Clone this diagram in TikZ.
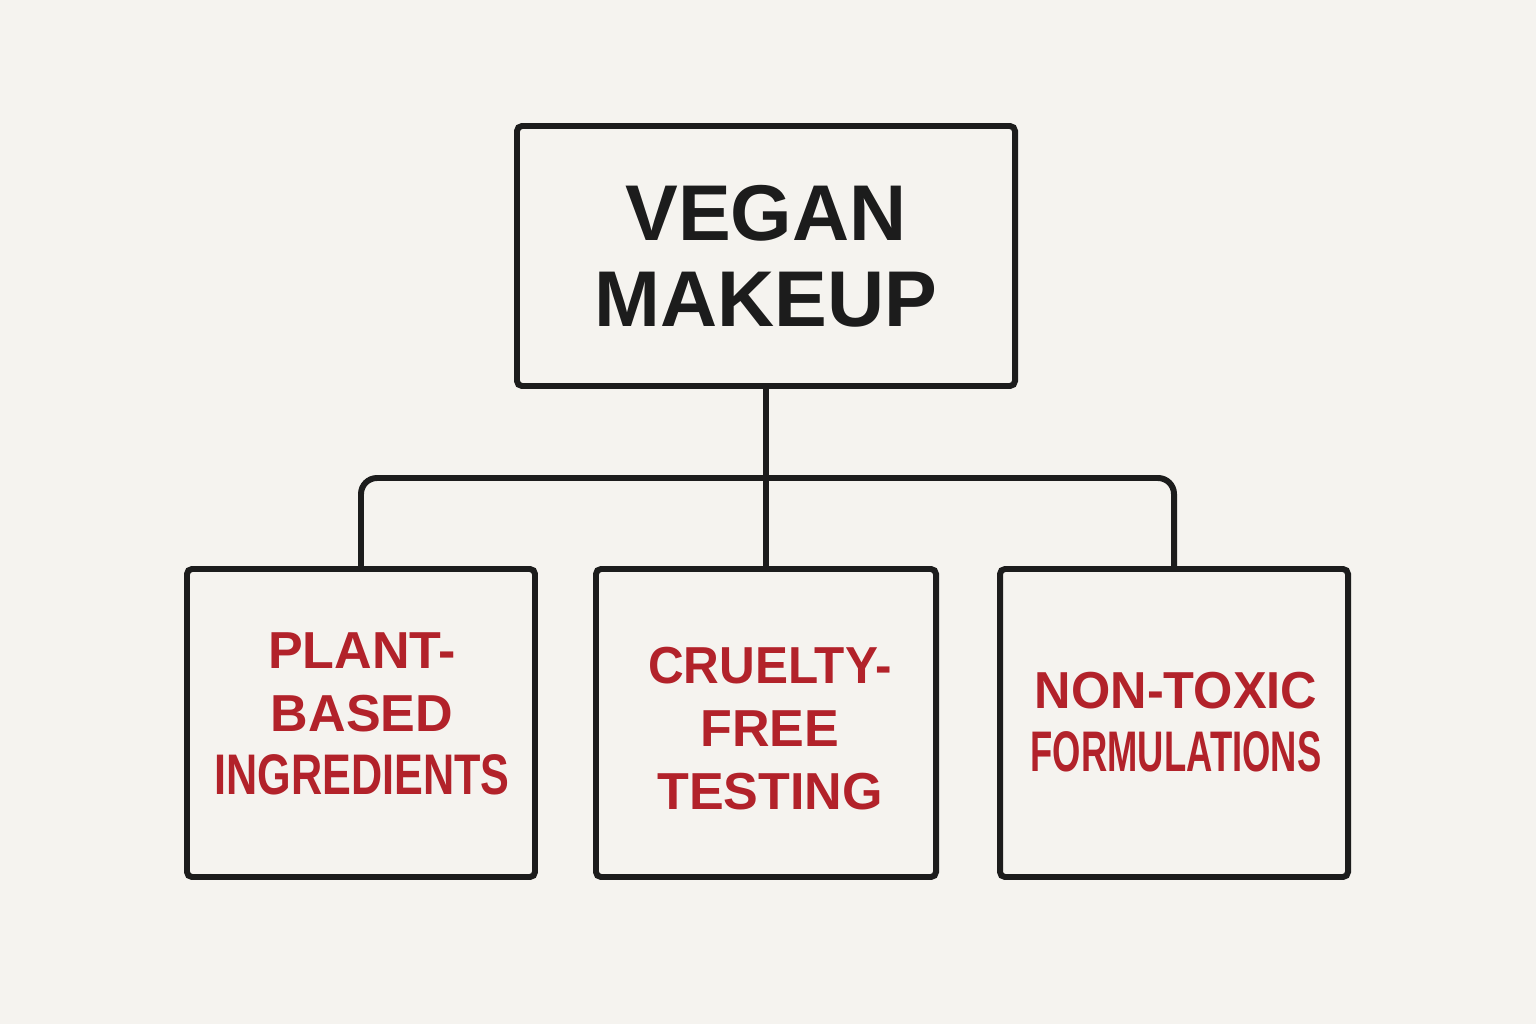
\documentclass[tikz,border=0pt]{standalone}
\usepackage{fontspec}
\usepackage{graphicx}
\setmainfont{Liberation Sans}
\definecolor{bg}{HTML}{F5F3EF}
\definecolor{ink}{HTML}{1C1C1C}
\definecolor{redtxt}{HTML}{B2222A}
\begin{document}
\begin{tikzpicture}[
  box/.style={draw=ink, line width=1.7pt, rounded corners=0.05cm, fill=bg, align=center, inner sep=0pt},
  topbox/.style={box, minimum width=4.98cm, minimum height=2.60cm, text=ink, font=\bfseries\fontsize{22.5}{24.4}\selectfont},
  subbox/.style={box, minimum width=3.44cm, minimum height=3.08cm},
  redlbl/.style={text=redtxt, font=\bfseries\fontsize{14.8}{17.9}\selectfont, align=center},
  link/.style={draw=ink, line width=1.7pt, rounded corners=0.16cm}
]
\fill[bg] (0,0) rectangle (15.36,10.24);
\useasboundingbox (0,0) rectangle (15.36,10.24);

\node[topbox] (top) at (7.66,7.68) {VEGAN\\MAKEUP};

\node[subbox, minimum width=3.48cm] (left) at (3.61,3.01) {};
\node[subbox, minimum width=3.40cm] (mid) at (7.66,3.01) {};
\node[subbox, minimum width=3.48cm] (right) at (11.74,3.01) {};

\node[redlbl] (ltxt) at (3.62,3.10)
  {PLANT-\\BASED\\\scalebox{0.83}[1.1]{INGREDIENTS}};
\node[redlbl] (mtxt) at (7.70,2.95)
  {\scalebox{0.95}[1]{CRUELTY-}\\FREE\\TESTING};
\node[redlbl] (rtxt) at (11.76,3.02)
  {\scalebox{0.97}[1]{NON-TOXIC}\\\scalebox{0.70}[1.1]{FORMULATIONS}};

\coordinate (junc) at (7.66,5.46);
\draw[link] (top.south) -- (mid.north);
\draw[link] (left.north) |- (junc) -| (right.north);
\end{tikzpicture}
\end{document}
